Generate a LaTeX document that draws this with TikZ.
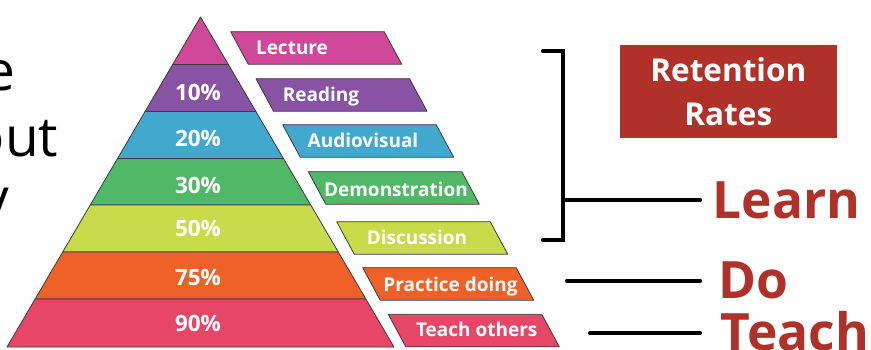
\documentclass[tikz,border=0pt]{standalone}
\usepackage{fontspec}
\setmainfont{Open Sans}
\usetikzlibrary{calc}
\definecolor{cLect}{HTML}{D04899}
\definecolor{cRead}{HTML}{8753A2}
\definecolor{cAudio}{HTML}{42A8CE}
\definecolor{cDemo}{HTML}{50B968}
\definecolor{cDisc}{HTML}{C9DB4A}
\definecolor{cPrac}{HTML}{EE622A}
\definecolor{cTeach}{HTML}{E84668}
\definecolor{cRet}{HTML}{B0312A}
\definecolor{cEdge}{HTML}{3A3A3A}
\tikzset{
  layer/.style={draw=cEdge, line width=0.8pt, line join=round},
  stripbox/.style={draw=cEdge, line width=0.8pt, line join=round},
  striplabel/.style={text=white, inner sep=0pt, font=\bfseries\fontsize{19}{20}\selectfont},
  pct/.style={text=white, inner sep=0pt, font=\bfseries\fontsize{22.5}{24}\selectfont},
  bigword/.style={text=cRet, inner sep=0pt, font=\bfseries\fontsize{51.5}{52}\selectfont},
  rettext/.style={text=white, inner sep=0pt, font=\bfseries\fontsize{31.5}{32}\selectfont},
  lefttext/.style={text=black, inner sep=0pt, font=\fontsize{55}{56}\selectfont},
  thick line/.style={line width=4.2pt, line cap=round, line join=miter}
}
\begin{document}
\begin{tikzpicture}[x=1pt,y=-1pt]
\useasboundingbox (0,0) rectangle (871,349);
\fill[white] (0,0) rectangle (871,349);
\clip (0,0) rectangle (871,349);

% left partial text
\node[lefttext, anchor=base east] (t1) at (16,90.5) {e};
\node[lefttext, anchor=base east] (t2) at (58.5,156.7) {out};
\node[lefttext, anchor=base east] (t3) at (9,217) {y};

% pyramid
\coordinate (apex) at (200.5,17);
\coordinate (bl) at (7,347);
\coordinate (br) at (394,347);
\foreach \ta/\tb/\col in {0/0.1439/cLect, 0.1439/0.2864/cRead, 0.2864/0.4288/cAudio,
  0.4288/0.5697/cDemo, 0.5697/0.7121/cDisc, 0.7121/0.8545/cPrac, 0.8545/1/cTeach}
  \draw[layer, fill=\col] ($(apex)!\ta!(bl)$) -- ($(apex)!\tb!(bl)$) -- ($(apex)!\tb!(br)$) -- ($(apex)!\ta!(br)$) -- cycle;

\node[pct, anchor=base] (p10) at (198,100.7) {10\%};
\node[pct, anchor=base] (p20) at (198,146.7) {20\%};
\node[pct, anchor=base] (p30) at (198,193.3) {30\%};
\node[pct, anchor=base] (p50) at (198,236) {50\%};
\node[pct, anchor=base] (p75) at (198,285) {75\%};
\node[pct, anchor=base] (p90) at (198,331.7) {90\%};

% strips
\foreach \yt/\xl/\col in {31.7/230.7/cLect, 78.7/256/cRead, 124.7/282.7/cAudio,
  171.7/308.3/cDemo, 221.7/336.7/cDisc, 267.7/362.7/cPrac, 314.3/388.3/cTeach}
  \draw[stripbox, fill=\col] (\xl,\yt) -- ++(153.5,0) -- ++(17.5,32.5) -- ++(-153.5,0) -- cycle;

\node[striplabel, anchor=base] (lecture) at (292,54.3) {Lecture};
\node[striplabel, anchor=base] (reading) at (321,101) {Reading};
\node[striplabel, anchor=base] (audio) at (363,147.3) {Audiovisual};
\node[striplabel, anchor=base] (demo) at (396,196) {Demonstration};
\node[striplabel, anchor=base] (disc) at (417,244) {Discussion};
\node[striplabel, anchor=base] (prac) at (450.5,291) {Practice doing};
\node[striplabel, anchor=base] (teacho) at (476.7,336.7) {Teach others};

% retention box
\node[fill=cRet, minimum width=216.7pt, minimum height=92.7pt, inner sep=0pt] (ret) at (728.3,91.3) {};
\node[rettext, anchor=base] (ret1) at (728.3,81.7) {Retention};
\node[rettext, anchor=base] (ret2) at (728.3,125.7) {Rates};

% big words
\node[bigword, anchor=base west] (learn) at (712.5,218.3) {Learn};
\node[bigword, anchor=base west] (do) at (718.4,298) {Do};
\node[bigword, anchor=base west] (teach) at (720.7,350) {Teach};

% bracket and connectors
\coordinate (b1) at (543,50.7);
\coordinate (b2) at (563,50.7);
\coordinate (b3) at (563,240);
\coordinate (b4) at (543,240);
\draw[thick line] (b1) -- (b2) -- (b3) -- (b4);
\coordinate (lc) at (563,200);
\coordinate (dc) at (567,280.7);
\coordinate (tc) at (590,333.3);
\draw[thick line] (lc) -- ($(lc -| learn.west)+(-12.5,0)$);
\draw[thick line] (dc) -- ($(dc -| do.west)+(-18.4,0)$);
\draw[thick line] (tc) -- ($(tc -| teach.west)+(-20.7,0)$);
\end{tikzpicture}
\end{document}
